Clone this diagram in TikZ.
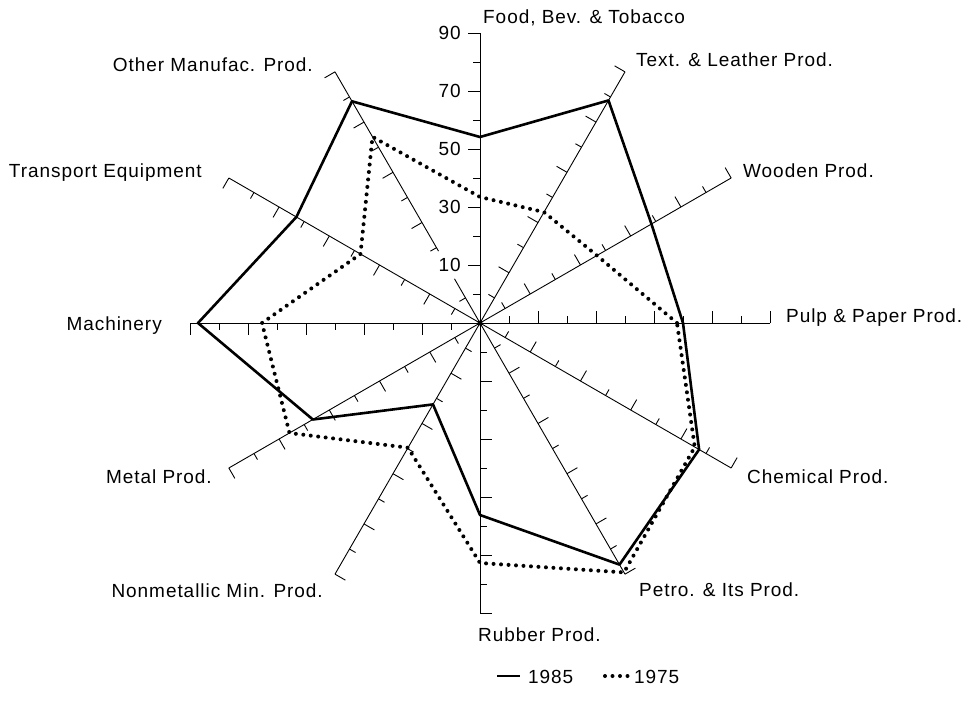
\documentclass[tikz,border=0pt]{standalone}
\usepackage{fontspec}
\setmainfont{Liberation Sans}[LetterSpace=5]
\begin{document}
\begin{tikzpicture}[x=1pt,y=1pt,
  axis/.style={line width=0.9pt},
  tickmark/.style={line width=0.9pt},
  yra/.style={line width=2.6pt, line join=round},
  yrb/.style={line width=4pt, line cap=round, dash pattern=on 0pt off 7.5pt},
  lab/.style={font=\fontsize{19}{21}\selectfont, inner sep=0pt},
  num/.style={font=\fontsize{19}{21}\selectfont, inner sep=0pt, anchor=east},
]
\useasboundingbox (-480,-387) rectangle (497,323);
\coordinate (O) at (0,0);
% axes with ticks
\foreach \a in {0,30,60,90,150,180,210,240,270,300,330} {
  \draw[axis] (O) -- (\a:290);
  \foreach \k in {1,...,10} {
    \pgfmathsetmacro\len{ifthenelse(mod(\k,2)==1,7,12)}
    \draw[tickmark] (\a:{\k*29}) -- ++({\a+90}:\len);
  }
}
% axis at 120 degrees, broken where the label 10 stands
\draw[axis] (O) -- (120:51);
\draw[axis] (120:83) -- (120:290);
\foreach \k in {1,3,4,5,6,7,8,9,10} {
  \pgfmathsetmacro\len{ifthenelse(mod(\k,2)==1,7,12)}
  \draw[tickmark] (120:{\k*29}) -- ++(210:\len);
}
\fill (O) circle (2.5);
% scale numbers
\foreach \v/\k in {10/2,30/4,50/6,70/8,90/10}
  \node[num] (n\v) at (-19,{\k*29}) {\v};
% data 1985
\foreach \a/\r in {0/203,30/198,60/257,90/186,120/256,150/212,180/282,210/193,240/94,270/192,300/279,330/253}
  \coordinate (s\a) at (\a:\r);
% data 1975
\foreach \a/\r in {0/197,30/135,60/128,90/126,120/215,150/138,180/218,210/220,240/144,270/240,300/288,330/248}
  \coordinate (d\a) at (\a:\r);
\draw[yra] (s0) -- (s30) -- (s60) -- (s90) -- (s120) -- (s150) -- (s180) -- (s210) -- (s240) -- (s270) -- (s300) -- (s330) -- cycle;
\draw[yrb] (d0) -- (d30) -- (d60) -- (d90) -- (d120) -- (d150) -- (d180) -- (d210) -- (d240) -- (d270) -- (d300) -- (d330) -- cycle;
% axis labels
\node[lab, anchor=base west] (lfood) at (3,299) {Food, Bev. \& Tobacco};
\node[lab, anchor=base west] (ltext) at (156,256) {Text. \& Leather Prod.};
\node[lab, anchor=base west] (lwood) at (263,146) {Wooden Prod.};
\node[lab, anchor=base west] (lpulp) at (306,1) {Pulp \& Paper Prod.};
\node[lab, anchor=base west] (lchem) at (267,-160) {Chemical Prod.};
\node[lab, anchor=base west] (lpetro) at (159,-273) {Petro. \& Its Prod.};
\node[lab, anchor=base west] (lrub) at (-2,-318) {Rubber Prod.};
\node[lab, anchor=base east] (lnon) at (-157,-274) {Nonmetallic Min. Prod.};
\node[lab, anchor=base east] (lmet) at (-268,-160) {Metal Prod.};
\node[lab, anchor=base east] (lmach) at (-318,-7) {Machinery};
\node[lab, anchor=base east] (ltrans) at (-278,146) {Transport Equipment};
\node[lab, anchor=base east] (loth) at (-167,251) {Other Manufac. Prod.};
% legend
\coordinate (la1) at (17,-353);
\coordinate (la2) at (40,-353);
\coordinate (lb1) at (125,-353);
\coordinate (lb2) at (148,-353);
\draw[yra] (la1) -- (la2);
\draw[yrb] (lb1) -- (lb2);
\node[lab, anchor=base west] (k85) at (48,-360) {1985};
\node[lab, anchor=base west] (k75) at (154,-360) {1975};
\end{tikzpicture}
\end{document}
